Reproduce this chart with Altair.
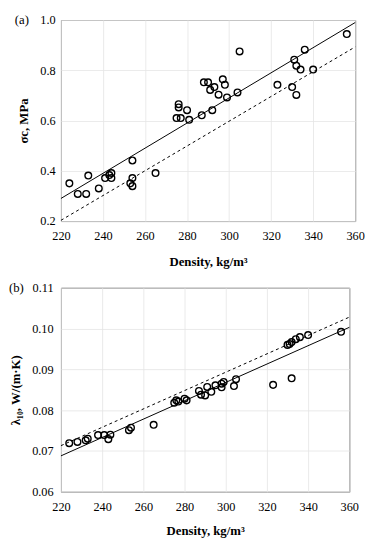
import altair as alt
import pandas as pd

FONT = "Liberation Serif"

# Panel (a): compressive strength vs density
a_density = [224, 228, 232, 233, 238, 241, 243, 244, 244, 253, 254, 254, 254, 265,
             275, 276, 276, 277, 280, 281, 287, 288, 290, 291, 292, 293, 295, 297,
             298, 299, 304, 305, 323, 330, 331, 332, 332, 334, 336, 340, 356]
a_strength = [0.350, 0.308, 0.308, 0.381, 0.330, 0.371, 0.383, 0.391, 0.371, 0.350,
              0.441, 0.371, 0.339, 0.391, 0.610, 0.665, 0.652, 0.610, 0.641, 0.603,
              0.621, 0.752, 0.752, 0.722, 0.641, 0.733, 0.703, 0.764, 0.742, 0.692,
              0.712, 0.875, 0.742, 0.733, 0.842, 0.818, 0.702, 0.803, 0.882, 0.803, 0.944]

# Panel (b): thermal conductivity vs density
b_density = [224, 228, 232, 233, 238, 241, 243, 244, 253, 254, 265, 275, 276, 277,
             280, 281, 287, 288, 290, 291, 293, 295, 298, 298, 299, 304, 305, 323,
             330, 331, 332, 332, 334, 336, 340, 356]
b_lambda = [0.0719, 0.0722, 0.0726, 0.0730, 0.0739, 0.0739, 0.0729, 0.0740, 0.0751,
            0.0757, 0.0764, 0.0818, 0.0824, 0.0821, 0.0828, 0.0824, 0.0847, 0.0838,
            0.0836, 0.0857, 0.0845, 0.0861, 0.0865, 0.0856, 0.0869, 0.0859, 0.0876,
            0.0862, 0.0960, 0.0962, 0.0967, 0.0878, 0.0974, 0.0979, 0.0984, 0.0992]

# Fitted (solid) and model (dashed) lines, endpoints
line_x = [220, 360]
a_solid = [0.290, 0.990]
a_dashed = [0.203, 0.893]
b_solid = [0.0688, 0.1003]
b_dashed = [0.0713, 0.1028]

x_ticks = [220, 240, 260, 280, 300, 320, 340, 360]
a_ticks = [0.2, 0.4, 0.6, 0.8, 1.0]
b_ticks = [0.06, 0.07, 0.08, 0.09, 0.10, 0.11]


def panel(px, py, solid, dashed, ydom, yticks, yfmt, ytitle, tag, tag_x, w, h,
          lpad, xlpad, xtpad):
    xs = alt.Scale(domain=[220, 360], nice=False, zero=False)
    ys = alt.Scale(domain=ydom, nice=False, zero=False)
    xax = alt.Axis(values=x_ticks, title="Density, kg/m³", labelPadding=xlpad,
                   titlePadding=xtpad, labelFlush=False)
    yax = alt.Axis(values=yticks, format=yfmt, title=ytitle, labelPadding=lpad,
                   titlePadding=9, labelFlush=False)
    pts = pd.DataFrame({"x": px, "y": py})
    sdf = pd.DataFrame({"x": line_x, "y": solid})
    ddf = pd.DataFrame({"x": line_x, "y": dashed})
    base_pts = alt.Chart(pts).mark_point(shape="circle", filled=False, color="black",
                                         size=46, strokeWidth=1.4, opacity=1).encode(
        x=alt.X("x:Q", scale=xs, axis=xax),
        y=alt.Y("y:Q", scale=ys, axis=yax),
    )
    l1 = alt.Chart(sdf).mark_line(color="black", strokeWidth=1).encode(
        x=alt.X("x:Q", scale=xs), y=alt.Y("y:Q", scale=ys))
    l2 = alt.Chart(ddf).mark_line(color="black", strokeWidth=1, strokeDash=[3, 3]).encode(
        x=alt.X("x:Q", scale=xs), y=alt.Y("y:Q", scale=ys))
    lab = alt.Chart(pd.DataFrame({"t": [tag]})).mark_text(
        align="left", baseline="middle", font=FONT, fontSize=13, color="black").encode(
        text="t:N", x=alt.value(tag_x), y=alt.value(0))
    return alt.layer(base_pts, l1, l2, lab).properties(width=w, height=h)


pa = panel(a_density, a_strength, a_solid, a_dashed, [0.2, 1.0], a_ticks, ".1f",
           "σc, MPa", "(a)", -47, 300, 205, 6, 9, 14)
pb = panel(b_density, b_lambda, b_solid, b_dashed, [0.06, 0.11], b_ticks, ".2f",
           "λ₁₀, W/(m·K)", "(b)", -53, 294, 208, 8, 9, 12)

chart = alt.vconcat(pa, pb, spacing=12).properties(
    padding=0
).configure(padding=0).configure_axis(
    labelFont=FONT, titleFont=FONT, labelFontSize=12.5, titleFontSize=13,
    titleFontWeight="bold", labelColor="black", titleColor="black",
    tickSize=0, domain=False, gridColor="#e4e4e4", gridWidth=0.8
).configure_view(stroke="#555555", strokeWidth=1)

chart.save("out.html", embed_options={"renderer": "svg", "actions": False})
